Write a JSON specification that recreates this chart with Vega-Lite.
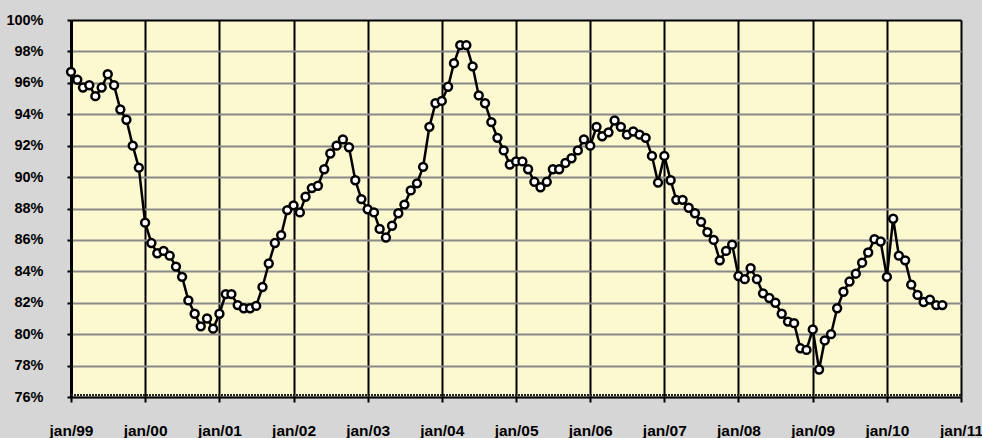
{
  "$schema": "https://vega.github.io/schema/vega-lite/v6.json",
  "width": 890,
  "height": 377,
  "autosize": {"type": "none"},
  "padding": {"left": 71, "top": 20, "right": 21, "bottom": 41},
  "background": "#d6d6d6",
  "config": {"view": {"fill": "#fcf8d0", "stroke": null}, "font": "Liberation Sans"},
  "data": {"values": [
    {"date": "1999-01-01", "v": 96.7}, {"date": "1999-02-01", "v": 96.2}, {"date": "1999-03-01", "v": 95.7}, {"date": "1999-04-01", "v": 95.85},
    {"date": "1999-05-01", "v": 95.15}, {"date": "1999-06-01", "v": 95.7}, {"date": "1999-07-01", "v": 96.55}, {"date": "1999-08-01", "v": 95.85},
    {"date": "1999-09-01", "v": 94.3}, {"date": "1999-10-01", "v": 93.65}, {"date": "1999-11-01", "v": 92.0}, {"date": "1999-12-01", "v": 90.6},
    {"date": "2000-01-01", "v": 87.1}, {"date": "2000-02-01", "v": 85.8}, {"date": "2000-03-01", "v": 85.15}, {"date": "2000-04-01", "v": 85.3},
    {"date": "2000-05-01", "v": 85.0}, {"date": "2000-06-01", "v": 84.3}, {"date": "2000-07-01", "v": 83.65}, {"date": "2000-08-01", "v": 82.15},
    {"date": "2000-09-01", "v": 81.3}, {"date": "2000-10-01", "v": 80.5}, {"date": "2000-11-01", "v": 81.0}, {"date": "2000-12-01", "v": 80.35},
    {"date": "2001-01-01", "v": 81.3}, {"date": "2001-02-01", "v": 82.55}, {"date": "2001-03-01", "v": 82.55}, {"date": "2001-04-01", "v": 81.85},
    {"date": "2001-05-01", "v": 81.65}, {"date": "2001-06-01", "v": 81.65}, {"date": "2001-07-01", "v": 81.8}, {"date": "2001-08-01", "v": 83.0},
    {"date": "2001-09-01", "v": 84.5}, {"date": "2001-10-01", "v": 85.8}, {"date": "2001-11-01", "v": 86.3}, {"date": "2001-12-01", "v": 87.9},
    {"date": "2002-01-01", "v": 88.2}, {"date": "2002-02-01", "v": 87.75}, {"date": "2002-03-01", "v": 88.75}, {"date": "2002-04-01", "v": 89.3},
    {"date": "2002-05-01", "v": 89.45}, {"date": "2002-06-01", "v": 90.5}, {"date": "2002-07-01", "v": 91.5}, {"date": "2002-08-01", "v": 92.0},
    {"date": "2002-09-01", "v": 92.4}, {"date": "2002-10-01", "v": 91.9}, {"date": "2002-11-01", "v": 89.8}, {"date": "2002-12-01", "v": 88.6},
    {"date": "2003-01-01", "v": 87.95}, {"date": "2003-02-01", "v": 87.75}, {"date": "2003-03-01", "v": 86.7}, {"date": "2003-04-01", "v": 86.15},
    {"date": "2003-05-01", "v": 86.9}, {"date": "2003-06-01", "v": 87.7}, {"date": "2003-07-01", "v": 88.25}, {"date": "2003-08-01", "v": 89.15},
    {"date": "2003-09-01", "v": 89.6}, {"date": "2003-10-01", "v": 90.65}, {"date": "2003-11-01", "v": 93.2}, {"date": "2003-12-01", "v": 94.7},
    {"date": "2004-01-01", "v": 94.85}, {"date": "2004-02-01", "v": 95.75}, {"date": "2004-03-01", "v": 97.25}, {"date": "2004-04-01", "v": 98.4},
    {"date": "2004-05-01", "v": 98.4}, {"date": "2004-06-01", "v": 97.05}, {"date": "2004-07-01", "v": 95.2}, {"date": "2004-08-01", "v": 94.7},
    {"date": "2004-09-01", "v": 93.5}, {"date": "2004-10-01", "v": 92.5}, {"date": "2004-11-01", "v": 91.7}, {"date": "2004-12-01", "v": 90.8},
    {"date": "2005-01-01", "v": 91.0}, {"date": "2005-02-01", "v": 91.0}, {"date": "2005-03-01", "v": 90.5}, {"date": "2005-04-01", "v": 89.7},
    {"date": "2005-05-01", "v": 89.35}, {"date": "2005-06-01", "v": 89.7}, {"date": "2005-07-01", "v": 90.5}, {"date": "2005-08-01", "v": 90.5},
    {"date": "2005-09-01", "v": 90.9}, {"date": "2005-10-01", "v": 91.2}, {"date": "2005-11-01", "v": 91.7}, {"date": "2005-12-01", "v": 92.4},
    {"date": "2006-01-01", "v": 92.0}, {"date": "2006-02-01", "v": 93.2}, {"date": "2006-03-01", "v": 92.6}, {"date": "2006-04-01", "v": 92.85},
    {"date": "2006-05-01", "v": 93.6}, {"date": "2006-06-01", "v": 93.2}, {"date": "2006-07-01", "v": 92.7}, {"date": "2006-08-01", "v": 92.9},
    {"date": "2006-09-01", "v": 92.7}, {"date": "2006-10-01", "v": 92.5}, {"date": "2006-11-01", "v": 91.35}, {"date": "2006-12-01", "v": 89.65},
    {"date": "2007-01-01", "v": 91.35}, {"date": "2007-02-01", "v": 89.8}, {"date": "2007-03-01", "v": 88.55}, {"date": "2007-04-01", "v": 88.55},
    {"date": "2007-05-01", "v": 88.05}, {"date": "2007-06-01", "v": 87.7}, {"date": "2007-07-01", "v": 87.15}, {"date": "2007-08-01", "v": 86.5},
    {"date": "2007-09-01", "v": 86.0}, {"date": "2007-10-01", "v": 84.7}, {"date": "2007-11-01", "v": 85.3}, {"date": "2007-12-01", "v": 85.7},
    {"date": "2008-01-01", "v": 83.7}, {"date": "2008-02-01", "v": 83.5}, {"date": "2008-03-01", "v": 84.2}, {"date": "2008-04-01", "v": 83.5},
    {"date": "2008-05-01", "v": 82.6}, {"date": "2008-06-01", "v": 82.3}, {"date": "2008-07-01", "v": 82.0}, {"date": "2008-08-01", "v": 81.3},
    {"date": "2008-09-01", "v": 80.8}, {"date": "2008-10-01", "v": 80.7}, {"date": "2008-11-01", "v": 79.1}, {"date": "2008-12-01", "v": 79.0},
    {"date": "2009-01-01", "v": 80.3}, {"date": "2009-02-01", "v": 77.75}, {"date": "2009-03-01", "v": 79.6}, {"date": "2009-04-01", "v": 80.0},
    {"date": "2009-05-01", "v": 81.65}, {"date": "2009-06-01", "v": 82.7}, {"date": "2009-07-01", "v": 83.35}, {"date": "2009-08-01", "v": 83.85},
    {"date": "2009-09-01", "v": 84.55}, {"date": "2009-10-01", "v": 85.2}, {"date": "2009-11-01", "v": 86.05}, {"date": "2009-12-01", "v": 85.9},
    {"date": "2010-01-01", "v": 83.65}, {"date": "2010-02-01", "v": 87.35}, {"date": "2010-03-01", "v": 85.0}, {"date": "2010-04-01", "v": 84.7},
    {"date": "2010-05-01", "v": 83.15}, {"date": "2010-06-01", "v": 82.5}, {"date": "2010-07-01", "v": 82.05}, {"date": "2010-08-01", "v": 82.2},
    {"date": "2010-09-01", "v": 81.85}, {"date": "2010-10-01", "v": 81.85}
  ]},
  "encoding": {
    "x": {
      "field": "date", "type": "temporal",
      "scale": {"type": "utc", "domain": [{"year": 1999, "month": 1, "date": 1, "utc": true}, {"year": 2011, "month": 1, "date": 1, "utc": true}]},
      "axis": {
        "title": null,
        "tickCount": {"interval": "year", "step": 1},
        "labelExpr": "'jan/' + utcFormat(datum.value, '%y')",
        "grid": true, "gridColor": "black", "gridWidth": 2,
        "domainColor": "black", "domainWidth": 2,
        "tickColor": "black", "tickWidth": 2, "tickSize": 5,
        "labelFont": "Liberation Sans", "labelFontWeight": "bold", "labelFontSize": 15.5, "labelColor": "black",
        "labelPadding": 21, "labelOverlap": false, "labelFlush": false
      }
    },
    "y": {
      "field": "v", "type": "quantitative",
      "scale": {"domain": [76, 100], "nice": false, "zero": false},
      "axis": {
        "title": null,
        "values": [76, 78, 80, 82, 84, 86, 88, 90, 92, 94, 96, 98, 100],
        "labelExpr": "datum.value + '%'",
        "grid": true,
        "gridColor": {"condition": {"test": "datum.value === 100", "value": "black"}, "value": "#8a8a8a"},
        "gridWidth": 2,
        "domainColor": "black", "domainWidth": 3,
        "tickColor": "black", "tickWidth": 2, "tickSize": 4,
        "labelFont": "Liberation Sans", "labelFontWeight": "bold", "labelFontSize": 14.5, "labelColor": "black",
        "labelPadding": 24
      }
    }
  },
  "layer": [
    {"mark": {"type": "rule", "color": "#222222", "strokeWidth": 1.5, "strokeDash": [1.5, 1.5]}, "encoding": {"x": null, "y": {"datum": 76.15}}},
    {"mark": {"type": "line", "color": "black", "strokeWidth": 2.5}},
    {"mark": {"type": "circle", "fill": "white", "stroke": "black", "strokeWidth": 2.5, "size": 62, "opacity": 1, "fillOpacity": 1}}
  ]
}
